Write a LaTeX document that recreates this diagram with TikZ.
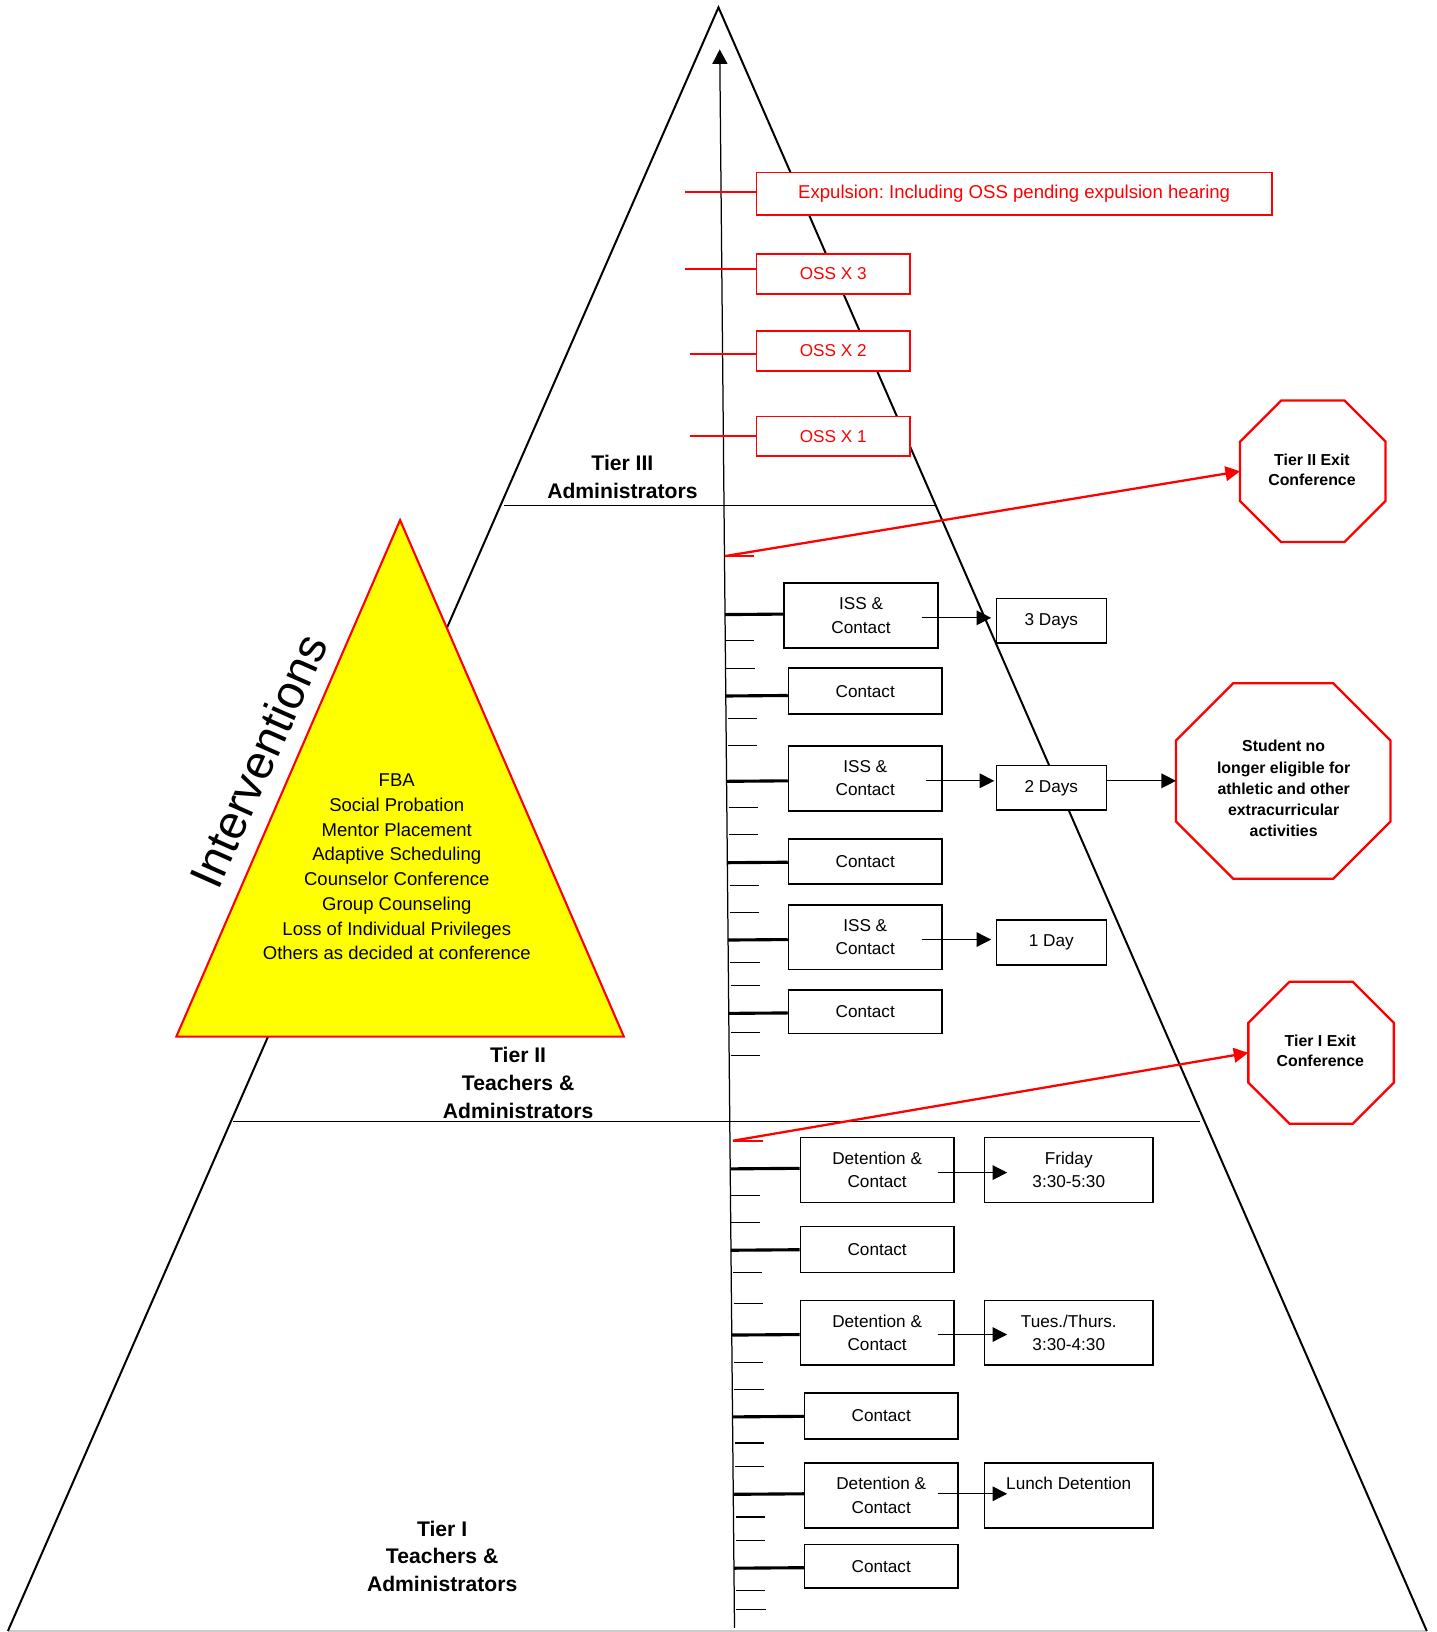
\documentclass[tikz,border=0pt]{standalone}
\usepackage{fontspec}
\setmainfont{Liberation Sans}
\usetikzlibrary{arrows.meta,calc}

\newcommand\fsz[2]{\fontsize{#1pt}{#2pt}\selectfont}

\tikzset{
  pyr/.style={line width=1.9pt, line join=miter},
  tierline/.style={line width=1pt},
  vline/.style={line width=1.2pt},
  thintick/.style={line width=1pt},
  thicktick/.style={line width=3pt},
  bbox/.style={draw, fill=white, line width=1.5pt, inner sep=0pt, align=center, font=\fsz{16.5}{22.4}},
  rbox/.style={draw=red, fill=white, line width=1.6pt, inner sep=0pt, align=center, text=red, font=\fsz{16.5}{22.4}},
  rtick/.style={draw=red, line width=2pt},
  barrow/.style={line width=1.2pt, -{Triangle[length=14pt,width=14pt]}},
  rarrow/.style={draw=red, line width=2.2pt, -{Triangle[length=14pt,width=14pt]}},
  octshape/.style={inner sep=0pt},
  octline/.style={draw=red, fill=white, line width=2.2pt, line join=miter},
  octtext/.style={align=center, font=\bfseries\fsz{15.25}{19.3}},
  tiertext/.style={align=center, font=\bfseries\fsz{20.3}{26.8}},
  ytext/.style={align=center, font=\fsz{17.8}{23.8}},
  inttext/.style={rotate=66, inner sep=0pt, font=\fsz{45.5}{50}},
}
\definecolor{pureyellow}{RGB}{255,255,0}

% box: name, x1, y1, x2, y2, style, text
\newcommand\bx[7]{\node[#6, minimum width={#4pt-#2pt}, minimum height={#5pt-#3pt}] (#1) at ({(#2+#4)/2},{(#3+#5)/2}) {#7};}
% octagon: name, cx, cy, w, h, chamfer
\newcommand\octo[6]{%
  \node[octshape, minimum width=#4pt, minimum height=#5pt] (#1) at (#2,#3) {};
  \draw[octline] ([xshift=#6pt]#1.north west) -- ([xshift=-#6pt]#1.north east)
    -- ([yshift=-#6pt]#1.north east) -- ([yshift=#6pt]#1.south east)
    -- ([xshift=-#6pt]#1.south east) -- ([xshift=#6pt]#1.south west)
    -- ([yshift=#6pt]#1.south west) -- ([yshift=-#6pt]#1.north west) -- cycle;}
% thin tick at display y
\newcommand\thintk[2]{\draw[thintick] ({691.5+0.009363*(#1-47.4)+#2},#1) -- ++(28,0);}
% thick tick from the vertical line to a box
\newcommand\thicktk[2]{\draw[thicktick] ($(vtop)!([yshift=#2pt]#1.west)!(vbot)$) -- ([yshift=#2pt]#1.west);}

\begin{document}
\frenchspacing
\begin{tikzpicture}[x=1pt,y=-1pt]
\useasboundingbox (0,0) rectangle (1380,1568);
\fill[white] (0,0) rectangle (1380,1568);

% big pyramid
\coordinate (papex) at (690.3,7.1);
\coordinate (pbl) at (7.6,1567);
\coordinate (pbr) at (1370.8,1567);
\draw[gray!40, line width=1.5pt] (pbl) -- (pbr);
\draw[pyr] (pbl) -- (papex) -- (pbr);

% tier boundaries
\coordinate (t3l) at (484,486);
\coordinate (t3r) at (900,486);
\coordinate (t2l) at (224,1077.9);
\coordinate (t2r) at (1153,1077.9);
\draw[tierline] (t3l) -- (t3r);
\draw[tierline] (t2l) -- (t2r);

% tier labels
\node[tiertext] (tier3) at (598,458.4) {Tier III\\Administrators};
\node[tiertext] (tier2) at (497.8,1040.6) {Tier II\\Teachers \&\\Administrators};
\node[tiertext] (tier1) at (424.8,1495.3) {Tier I\\Teachers \&\\Administrators};

% interventions triangle
\draw[draw=red, fill=pureyellow, line width=2pt, line join=miter] (384.4,499.7) -- (169.4,996) -- (599.4,996) -- cycle;
\node[ytext] (interv) at (381.2,832.9) {FBA\\Social Probation\\Mentor Placement\\Adaptive Scheduling\\Counselor Conference\\Group Counseling\\Loss of Individual Privileges\\Others as decided at conference};
\node[inttext] (intlabel) at (248,731) {Interventions};

% vertical scale
\coordinate (vtop) at (691.5,47.4);
\coordinate (vbot) at (705.7,1564);
\draw[vline, -{Triangle[length=14pt,width=14.4pt]}] (vbot) -- (vtop);

% thin ticks
\foreach \yy/\off in {615.7/0,642/0,690.6/2,716.6/2,775.8/2,802.1/2,850.5/2,876.4/2,925/2,947.2/2,992/2,1014.5/2,
  1148.5/0,1174.6/0,1223/2,1252.8/2,1308.6/2,1334.6/2,1386.4/2,1409.1/2,1457.5/2,1480.1/2,1528.2/2,1546.8/2}
  {\thintk{\yy}{\off}}

% red (tier III) boxes
\bx{exp}{726.8}{165.6}{1222}{206.6}{rbox}{\fsz{17.86}{22}Expulsion: Including OSS pending expulsion hearing}
\bx{oss3}{726.8}{243.8}{874.2}{282.3}{rbox}{OSS X 3}
\bx{oss2}{726.8}{318.1}{874.2}{356.5}{rbox}{OSS X 2}
\bx{oss1}{726.8}{400.1}{874.2}{437.9}{rbox}{OSS X 1}
\coordinate (e0) at (658.3,184.2);
\coordinate (e3) at (658.3,258.5);
\coordinate (e2) at (662.5,340.5);
\coordinate (e1) at (662.5,418.7);
\draw[rtick] (e0) -- (e0 -| exp.west);
\draw[rtick] (e3) -- (e3 -| oss3.west);
\draw[rtick] (e2) -- (e2 -| oss2.west);
\draw[rtick] (e1) -- (e1 -| oss1.west);

% tier II boxes
\bx{iss1}{753.5}{560}{901}{622.7}{bbox}{ISS \&\\Contact}
\bx{con1}{757.6}{642}{905}{686}{bbox}{Contact}
\bx{iss2}{757.6}{716.6}{905}{779}{bbox}{ISS \&\\Contact}
\bx{con2}{757.6}{806}{905}{849.5}{bbox}{Contact}
\bx{iss3}{757.6}{869.4}{905}{931.5}{bbox}{ISS \&\\Contact}
\bx{con3}{757.6}{951}{905}{993}{bbox}{Contact}
\bx{d3}{957.2}{575}{1063}{618}{bbox}{3 Days}
\bx{d2}{957.2}{735.5}{1063}{778.4}{bbox}{2 Days}
\bx{d1}{957.2}{884}{1063}{927.4}{bbox}{1 Day}

% tier I boxes
\bx{det1}{769}{1092.7}{916.5}{1155.3}{bbox}{Detention \&\\Contact}
\bx{con4}{769}{1178.2}{916.5}{1222.4}{bbox}{Contact}
\bx{det2}{769}{1249.3}{916.5}{1311.3}{bbox}{Detention \&\\Contact}
\bx{con5}{773}{1338.4}{920.3}{1382.4}{bbox}{Contact}
\bx{det3}{773}{1405.4}{920.3}{1468}{bbox}{Detention \&\\Contact}
\bx{con6}{773}{1483.8}{920.3}{1525.8}{bbox}{Contact}
\bx{fri}{946}{1092.7}{1107.7}{1155.3}{bbox}{Friday\\3:30-5:30}
\bx{tue}{946}{1249.3}{1107.7}{1311.3}{bbox}{Tues./Thurs.\\3:30-4:30}
\bx{lunch}{946}{1405.4}{1107.7}{1468}{bbox}{Lunch Detention\\\mbox{}}

% thick ticks
\thicktk{iss1}{1.35}
\thicktk{con1}{-4.2}
\thicktk{iss2}{-2.4}
\thicktk{con2}{-0.65}
\thicktk{iss3}{-2.25}
\thicktk{con3}{-1.2}
\thicktk{det1}{1.5}
\thicktk{con4}{-0.4}
\thicktk{det2}{-1.9}
\thicktk{con5}{-0.4}
\thicktk{det3}{1.5}
\thicktk{con6}{-1.4}

% octagons
\octo{oct2}{1261.3}{452.8}{139.4}{135.6}{39.5}
\octo{octS}{1232.95}{750.35}{205.7}{187.4}{55}
\octo{oct1}{1269.3}{1011.5}{139.4}{136}{39.5}
\node[octtext] (oct2t) at (1260.5,451.7) {Tier II Exit\\Conference};
\node[octtext, font=\bfseries\fsz{15.25}{20.3}] (octSt) at (1233.3,757.6) {Student no\\longer eligible for\\athletic and other\\extracurricular\\activities};
\node[octtext] (oct1t) at (1268.5,1009.7) {Tier I Exit\\Conference};

% black arrows
\coordinate (a1) at ($(iss1.east)+(-16.2pt,-2.25pt)$);
\draw[barrow, shorten >=4.2pt] (a1) -- (a1 -| d3.west);
\coordinate (a2) at ($(iss2.east)+(-16.4pt,-2.4pt)$);
\draw[barrow, shorten >=1.2pt] (a2) -- (a2 -| d2.west);
\coordinate (a3) at ($(iss3.east)+(-20.2pt,-2.25pt)$);
\draw[barrow, shorten >=4.2pt] (a3) -- (a3 -| d1.west);
\coordinate (a4) at ($(det1.east)+(-16.3pt,-2.6pt)$);
\draw[barrow] (a4) -- ($(a4 -| fri.west)+(22.4pt,0pt)$);
\coordinate (a5) at ($(det2.east)+(-16.3pt,-1.9pt)$);
\draw[barrow] (a5) -- ($(a5 -| tue.west)+(22.4pt,0pt)$);
\coordinate (a6) at ($(det3.east)+(-20.1pt,1.5pt)$);
\draw[barrow] (a6) -- ($(a6 -| lunch.west)+(22.4pt,0pt)$);
\coordinate (a7) at ($(d2.east)+(0pt,6.75pt)$);
\draw[barrow] (a7) -- (a7 -| octS.west);

% red exit arrows
\coordinate (r1) at (696.4,534.3);
\coordinate (r2) at (704.2,1096);
\draw[rtick] (r1) -- ++(28,0);
\draw[rtick] (r2) -- ++(29,0);
\draw[rarrow] (r1) -- (oct2.west);
\draw[rarrow] (r2) -- (oct1.west);
\end{tikzpicture}
\end{document}
